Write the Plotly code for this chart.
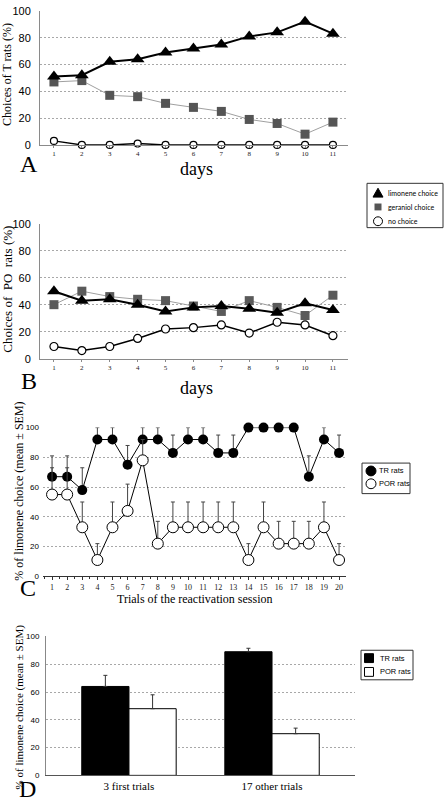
import plotly.graph_objects as go

W, H = 444, 805


def px(x):
    return x / W


def py(y):
    return 1 - y / H


# ---------------- data ----------------
days = list(range(1, 12))
a_limonene = [51, 52, 62, 64, 69, 72, 75, 81, 84, 92, 83]
a_geraniol = [47, 48, 37, 36, 31, 28, 25, 19, 16, 8, 17]
a_nochoice = [3, 0, 0, 1, 0, 0, 0, 0, 0, 0, 0]

b_limonene = [50, 43, 44, 40, 35, 38, 39, 37, 34, 41, 36]
b_geraniol = [40, 50, 46, 44, 43, 39, 35, 43, 38, 32, 47]
b_nochoice = [9, 6, 9, 15, 22, 23, 25, 19, 27, 25, 17]

trials = list(range(1, 21))
c_tr = [67, 67, 58, 92, 92, 75, 92, 92, 83, 92, 92, 83, 83, 100, 100, 100, 100, 67, 92, 83]
c_tr_sem = [14, 14, 15, 8, 8, 13, 8, 8, 12, 8, 8, 12, 12, 0, 0, 0, 0, 14, 8, 12]
c_por = [55, 55, 33, 11, 33, 44, 78, 22, 33, 33, 33, 33, 33, 11, 33, 22, 22, 22, 33, 11]
c_por_sem = [18, 18, 17, 11, 17, 18, 14, 15, 17, 17, 17, 17, 17, 11, 17, 15, 15, 15, 17, 11]

d_groups = ["3 first trials", "17 other trials"]
d_tr = [64, 89]
d_tr_sem = [8, 2.5]
d_por = [48, 30]
d_por_sem = [10, 4]

yticks = [0, 20, 40, 60, 80, 100]

SERIF = "Liberation Serif"
SANS = "Liberation Sans"

fig = go.Figure()

# ---------------- panel A ----------------
fig.add_trace(go.Scatter(x=days, y=a_geraniol, mode="lines+markers", xaxis="x", yaxis="y",
                         line=dict(color="#a0a0a0", width=1),
                         marker=dict(symbol="square", size=9, color="#555555"),
                         cliponaxis=False, showlegend=False))
fig.add_trace(go.Scatter(x=days, y=a_limonene, mode="lines+markers", xaxis="x", yaxis="y",
                         line=dict(color="black", width=2),
                         marker=dict(symbol="triangle-up", size=12, color="black"),
                         cliponaxis=False, showlegend=False))
fig.add_trace(go.Scatter(x=days, y=a_nochoice, mode="lines+markers", xaxis="x", yaxis="y",
                         line=dict(color="black", width=1.5),
                         marker=dict(symbol="circle", size=7, color="white",
                                     line=dict(color="black", width=1.2)),
                         cliponaxis=False, showlegend=False))

# ---------------- panel B ----------------
fig.add_trace(go.Scatter(x=days, y=b_geraniol, mode="lines+markers", xaxis="x2", yaxis="y2",
                         line=dict(color="#a0a0a0", width=1),
                         marker=dict(symbol="square", size=9, color="#5a5a5a"),
                         cliponaxis=False, showlegend=False))
fig.add_trace(go.Scatter(x=days, y=b_limonene, mode="lines+markers", xaxis="x2", yaxis="y2",
                         line=dict(color="black", width=2),
                         marker=dict(symbol="triangle-up", size=12, color="black"),
                         cliponaxis=False, showlegend=False))
fig.add_trace(go.Scatter(x=days, y=b_nochoice, mode="lines+markers", xaxis="x2", yaxis="y2",
                         line=dict(color="black", width=1.5),
                         marker=dict(symbol="circle", size=8, color="white",
                                     line=dict(color="black", width=1.2)),
                         cliponaxis=False, showlegend=False))

# ---------------- panel C ----------------
err_c = dict(type="data", symmetric=False, color="#444444", thickness=1, width=2)
fig.add_trace(go.Scatter(x=trials, y=c_tr, mode="lines+markers", xaxis="x3", yaxis="y3",
                         line=dict(color="black", width=1),
                         marker=dict(symbol="circle", size=10, color="black"),
                         error_y=dict(array=c_tr_sem, arrayminus=[0] * len(c_tr), **err_c),
                         cliponaxis=False, showlegend=False))
fig.add_trace(go.Scatter(x=trials, y=c_por, mode="lines+markers", xaxis="x3", yaxis="y3",
                         line=dict(color="black", width=1),
                         marker=dict(symbol="circle", size=11, color="white",
                                     line=dict(color="black", width=1)),
                         error_y=dict(array=c_por_sem, arrayminus=[0] * len(c_por), **err_c),
                         cliponaxis=False, showlegend=False))

# ---------------- panel D ----------------
err_d = dict(type="data", symmetric=False, color="#333333", thickness=1, width=2)
fig.add_trace(go.Bar(x=d_groups, y=d_tr, xaxis="x4", yaxis="y4",
                     marker=dict(color="black", line=dict(color="black", width=1)),
                     error_y=dict(array=d_tr_sem, arrayminus=[0, 0], **err_d),
                     showlegend=False))
fig.add_trace(go.Bar(x=d_groups, y=d_por, xaxis="x4", yaxis="y4",
                     marker=dict(color="white", line=dict(color="black", width=1)),
                     error_y=dict(array=d_por_sem, arrayminus=[0, 0], **err_d),
                     showlegend=False))

grid = dict(showgrid=True, gridcolor="#a8a8a8", griddash="2px,2px", gridwidth=1)


def xaxis_days(y_anchor):
    return dict(domain=[px(40), px(348)], range=[0.5, 11.54], anchor=y_anchor,
                tickvals=days, ticktext=[str(d) for d in days],
                tickfont=dict(family=SERIF, size=7, color="#222"),
                showline=True, linecolor="#8a8a8a", linewidth=1,
                ticks="outside", ticklen=2, tickcolor="#8a8a8a",
                showgrid=False, zeroline=False, fixedrange=True)


def yaxis_pct(x_anchor, top, bottom, size=11, family=SANS, line=True):
    return dict(domain=[py(bottom), py(top)], range=[0, 100], anchor=x_anchor,
                tickvals=yticks, tickfont=dict(family=family, size=size, color="black"),
                showline=line, linecolor="#8a8a8a", linewidth=1, ticks="",
                zeroline=False, ticklabelstandoff=6, fixedrange=True, **grid)


fig.update_layout(
    width=W, height=H, margin=dict(l=0, r=0, t=0, b=0),
    paper_bgcolor="white", plot_bgcolor="white",
    barmode="group", bargap=0.34, bargroupgap=0,
    xaxis=xaxis_days("y"),
    yaxis=yaxis_pct("x", 5, 141),
    xaxis2=xaxis_days("y2"),
    yaxis2=yaxis_pct("x2", 221, 358),
    xaxis3=dict(domain=[px(43), px(346)], range=[0.4, 20.46], anchor="y3",
                tickvals=trials, tickfont=dict(family=SERIF, size=8, color="#222"),
                showline=True, linecolor="#333", linewidth=1,
                ticks="outside", ticklen=3, tickcolor="#333",
                minor=dict(ticks="outside", ticklen=2, tickcolor="#333", dtick=0.5, tick0=0),
                showgrid=False, zeroline=False, fixedrange=True),
    yaxis3=dict(domain=[py(579), py(428)], range=[0, 100], anchor="x3",
                tickvals=yticks, tickfont=dict(family=SANS, size=8, color="black"),
                showline=False, ticks="", zeroline=False, ticklabelstandoff=3,
                fixedrange=True, **grid),
    xaxis4=dict(domain=[px(46), px(355)], range=[-0.58, 1.58], anchor="y4", type="category",
                tickfont=dict(family=SERIF, size=11, color="black"),
                showline=True, linecolor="#555", linewidth=1, ticks="",
                showgrid=False, zeroline=False, fixedrange=True),
    yaxis4=dict(domain=[py(781), py(640)], range=[0, 100], anchor="x4",
                tickvals=yticks, tickfont=dict(family=SANS, size=8, color="black"),
                showline=True, linecolor="#888", linewidth=1, ticks="", zeroline=False,
                ticklabelstandoff=4, fixedrange=True, **grid),
)

ann = []


def text(x, y, s, size, family=SERIF, angle=0, xanchor="center", color="black"):
    ann.append(dict(x=px(x), y=py(y), xref="paper", yref="paper", text=s, showarrow=False,
                    font=dict(family=family, size=size, color=color), textangle=angle,
                    xanchor=xanchor, yanchor="middle"))


# panel letters / titles
text(29, 160, "A", 24)
text(196, 165, "days", 18)
text(7, 70, "Choices of T rats (%)", 12, angle=-90)
text(29, 381, "B", 24)
text(196, 388, "days", 18)
text(8, 288, "Choices of  PO  rats (%)", 13, angle=-90)
text(28, 591, "C", 24)
text(195, 602, "Trials of the reactivation session", 12)
text(19, 493, "% of limonene choice (mean ± SEM)", 12, angle=-90)
text(28, 795, "D", 24)
text(19, 712, "% of limonene choice (mean ± SEM)", 11, angle=-90)

shapes = []

# legend A/B
LFONT = "Lato"
shapes.append(dict(type="rect", xref="paper", yref="paper", x0=px(367), x1=px(443),
                   y0=py(225), y1=py(180), line=dict(color="#333", width=1), fillcolor="white"))
shapes.append(dict(type="path", xref="paper", yref="paper",
                   path=f"M {px(373)} {py(194)} L {px(383)} {py(194)} L {px(378)} {py(185)} Z",
                   fillcolor="black", line=dict(color="black", width=1)))
shapes.append(dict(type="rect", xref="paper", yref="paper", x0=px(374.5), x1=px(381.5),
                   y0=py(207.5), y1=py(200.5), fillcolor="#555555", line=dict(width=0)))
shapes.append(dict(type="circle", xref="paper", yref="paper", x0=px(373.5), x1=px(382.5),
                   y0=py(223), y1=py(214), fillcolor="white", line=dict(color="black", width=1)))
text(386, 189.5, "limonene choice", 7, family=LFONT, xanchor="left")
text(386, 204, "geraniol choice", 7, family=LFONT, xanchor="left")
text(386, 218.5, "no choice", 7, family=LFONT, xanchor="left")

# legend C
shapes.append(dict(type="rect", xref="paper", yref="paper", x0=px(362), x1=px(410),
                   y0=py(495), y1=py(464), line=dict(color="#333", width=1), fillcolor="white"))
shapes.append(dict(type="circle", xref="paper", yref="paper", x0=px(366), x1=px(376),
                   y0=py(477), y1=py(467), fillcolor="black", line=dict(color="black", width=1)))
shapes.append(dict(type="circle", xref="paper", yref="paper", x0=px(366), x1=px(376),
                   y0=py(490), y1=py(480), fillcolor="white", line=dict(color="black", width=1)))
text(377, 472, "TR rats", 7.5, family=SANS, xanchor="left")
text(377, 485, "POR rats", 7.5, family=SANS, xanchor="left")

# legend D
shapes.append(dict(type="rect", xref="paper", yref="paper", x0=px(361), x1=px(413),
                   y0=py(684), y1=py(654), line=dict(color="#333", width=1), fillcolor="white"))
shapes.append(dict(type="rect", xref="paper", yref="paper", x0=px(364.5), x1=px(373.5),
                   y0=py(666.5), y1=py(657.5), fillcolor="black", line=dict(color="black", width=1)))
shapes.append(dict(type="rect", xref="paper", yref="paper", x0=px(364.5), x1=px(373.5),
                   y0=py(680.5), y1=py(671.5), fillcolor="white", line=dict(color="black", width=1)))
text(378, 662, "TR rats", 7.5, family=SANS, xanchor="left")
text(378, 676, "POR rats", 7.5, family=SANS, xanchor="left")

fig.update_layout(annotations=ann, shapes=shapes)

fig.write_html("out.html", config={"displayModeBar": False},
               post_script="document.body.style.margin='0';document.body.style.overflow='hidden';")
